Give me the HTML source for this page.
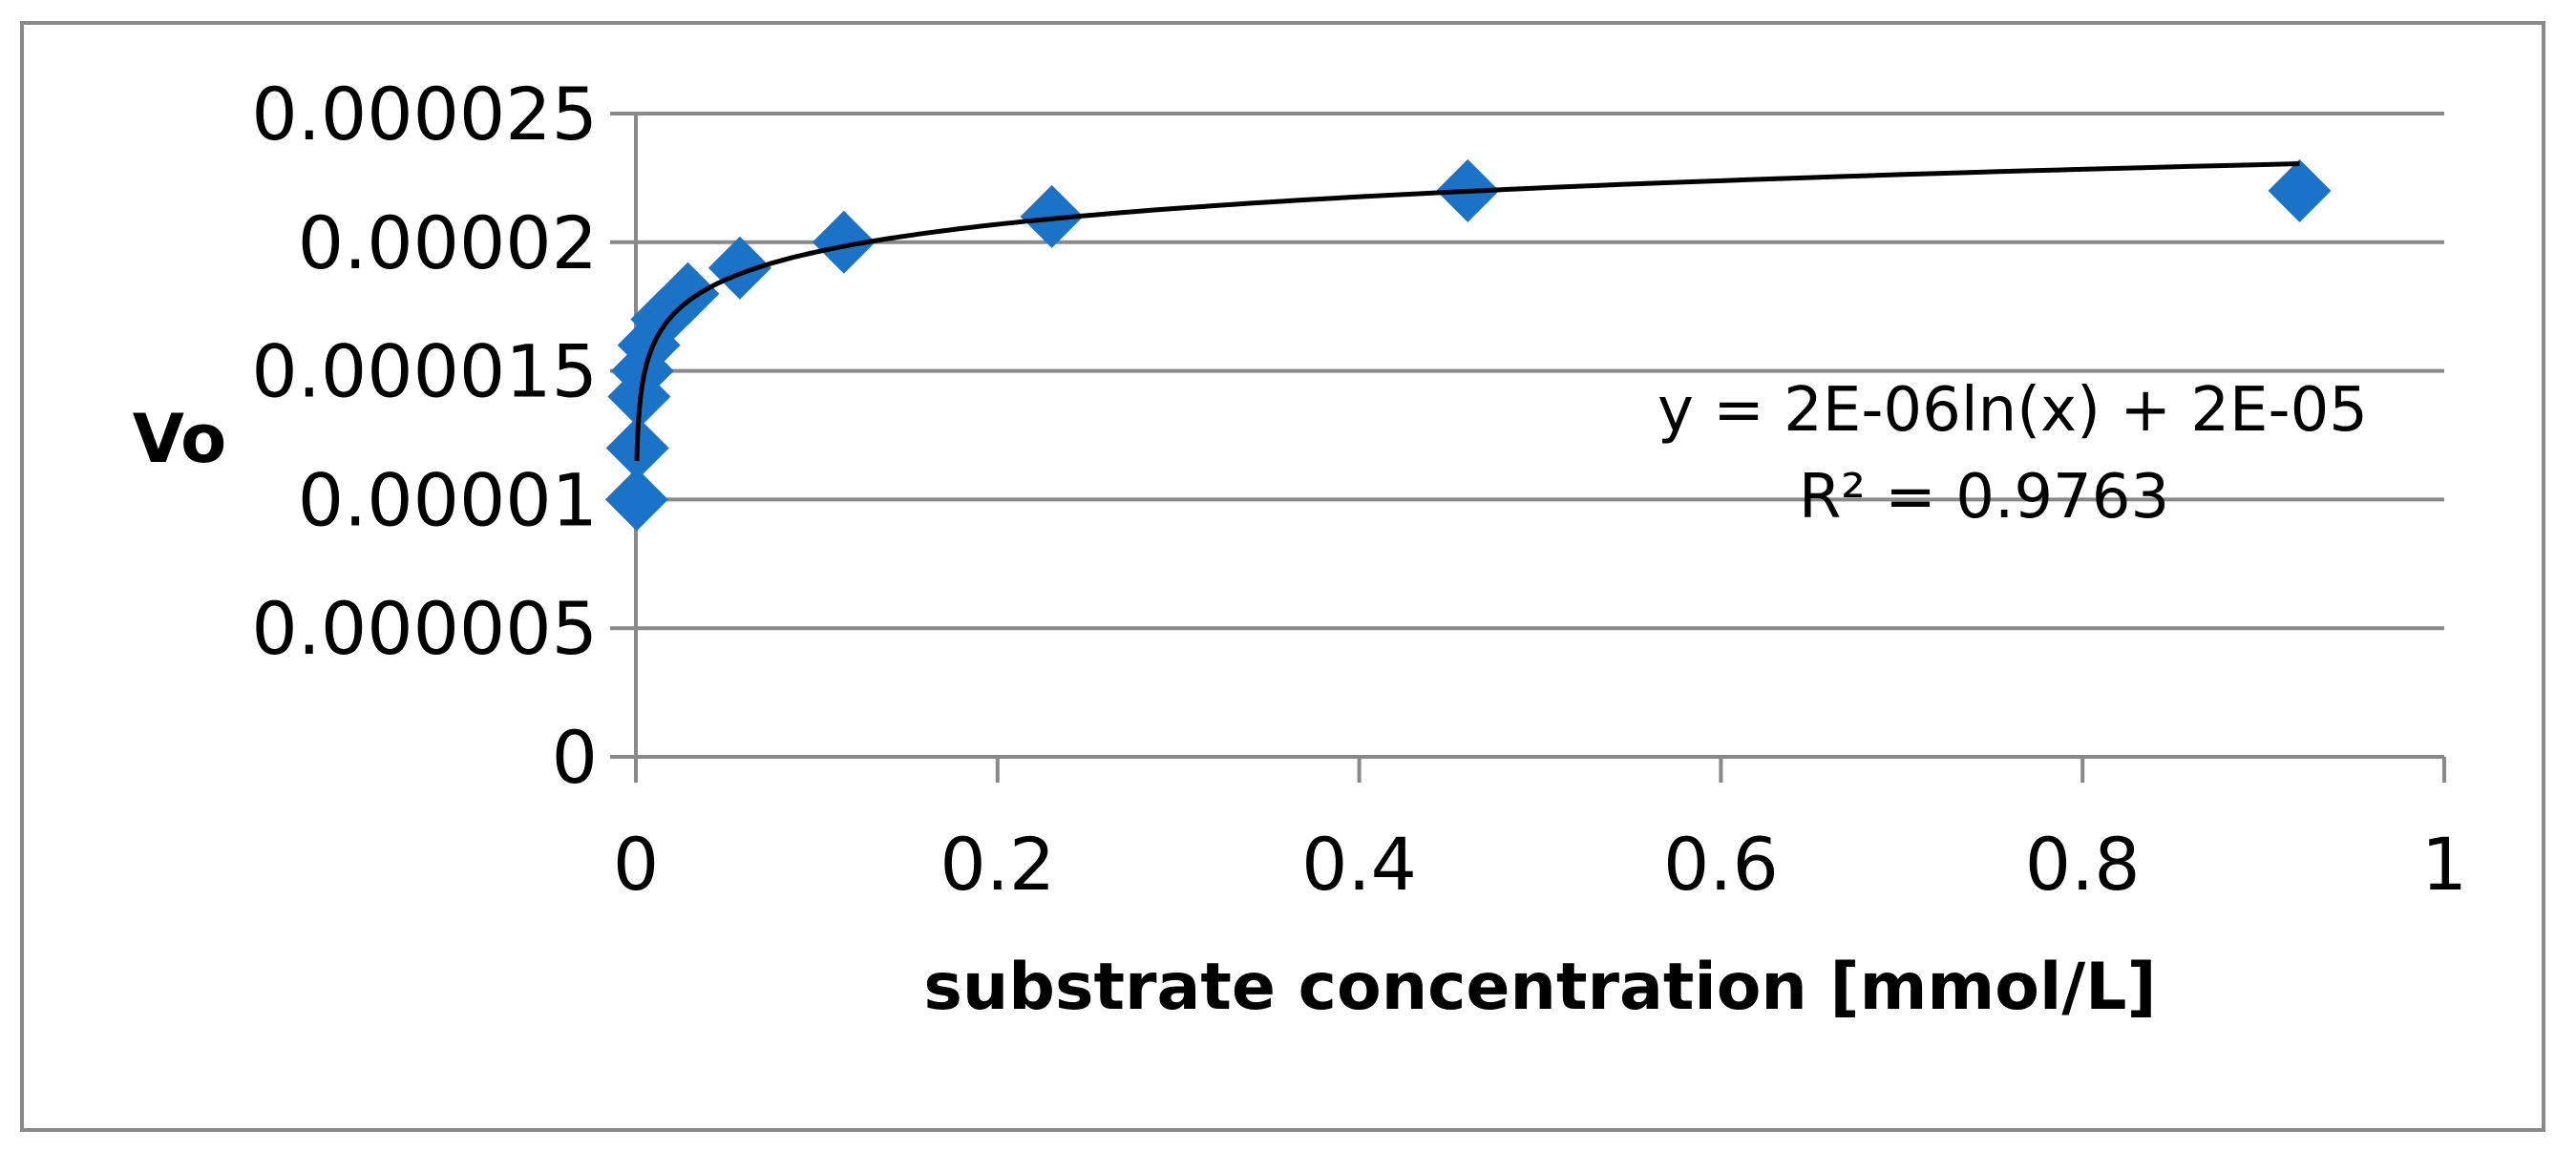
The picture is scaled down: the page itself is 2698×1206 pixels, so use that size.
<!DOCTYPE html>
<html><head><meta charset="utf-8"><style>
html,body{margin:0;padding:0;background:#fff;}
svg{display:block;}
text{font-family:"DejaVu Sans","Liberation Sans",sans-serif;fill:#000;}
</style></head><body>
<svg id="chart" width="2698" height="1206" viewBox="0 0 2698 1206" xmlns="http://www.w3.org/2000/svg">
<rect x="23" y="24" width="2641" height="1160" fill="#fff" stroke="#898989" stroke-width="4"/>
<g id="grid"></g><g id="axes"></g><g id="points"></g><g id="trend"></g><g id="labels"></g>
<text x="188" y="484" font-size="70" font-weight="bold" text-anchor="middle">Vo</text>
<text x="1613" y="1057" font-size="68" font-weight="bold" text-anchor="middle">substrate concentration [mmol/L]</text>
<text x="2108" y="451" font-size="64" text-anchor="middle">y = 2E-06ln(x) + 2E-05</text>
<text x="2078" y="542" font-size="64" text-anchor="middle">R² = 0.9763</text>
</svg>
<script>
const xData = [0.92, 0.46, 0.23, 0.115, 0.0575, 0.02875, 0.0144, 0.0072, 0.0036, 0.0018, 0.0009, 0.00045];
const yData = [2.2e-5, 2.2e-5, 2.1e-5, 2.0e-5, 1.9e-5, 1.8e-5, 1.7e-5, 1.6e-5, 1.5e-5, 1.4e-5, 1.2e-5, 1.0e-5];
const yTicks = [0, 0.000005, 0.00001, 0.000015, 0.00002, 0.000025];
const yTickLabels = ["0", "0.000005", "0.00001", "0.000015", "0.00002", "0.000025"];
const xTicks = [0, 0.2, 0.4, 0.6, 0.8, 1];
const xTickLabels = ["0", "0.2", "0.4", "0.6", "0.8", "1"];

const X0=666, X1=2560, Y0=793, Y1=119;
const sx = v => X0 + (v-0)/(1-0)*(X1-X0);
const sy = v => Y0 - (v-0)/(0.000025)*(Y0-Y1);
const NS="http://www.w3.org/2000/svg";
function mk(tag, attrs, parent){const e=document.createElementNS(NS,tag);for(const k in attrs)e.setAttribute(k,attrs[k]);parent.appendChild(e);return e;}
const grid=document.getElementById('grid'), axes=document.getElementById('axes'), labels=document.getElementById('labels');

yTicks.forEach((t,i)=>{
  const y=sy(t);
  const g=mk('line',{x1:X0-27,x2:X1,y1:y,y2:y,stroke:'#898989','stroke-width':4},grid);
  
  
  const tx=mk('text',{x:X0-40,y:y+27,'font-size':76,'text-anchor':'end'},labels);
  tx.textContent=yTickLabels[i];
  
  
});
const ya=mk('line',{x1:X0,x2:X0,y1:Y1,y2:Y0+27,stroke:'#898989','stroke-width':4},axes);


xTicks.forEach((t,i)=>{
  const x=sx(t);
  const tk=mk('line',{x1:x,x2:x,y1:Y0,y2:Y0+27,stroke:'#898989','stroke-width':4},axes);
  
  
  const tx=mk('text',{x:x,y:932,'font-size':76,'text-anchor':'middle'},labels);
  tx.textContent=xTickLabels[i];
  
  
});

// logarithmic trendline via least squares
let n=xData.length,sl=0,sy2=0,sll=0,sly=0;
for(let i=0;i<n;i++){const l=Math.log(xData[i]);sl+=l;sy2+=yData[i];sll+=l*l;sly+=l*yData[i];}
const a=(n*sly-sl*sy2)/(n*sll-sl*sl), b=(sy2-a*sl)/n;
let d='';
const xmin=Math.exp((1.15e-5-b)/a), xmax=Math.max(...xData);
for(let k=0;k<=300;k++){
  const x=Math.exp(Math.log(xmin)+(Math.log(xmax)-Math.log(xmin))*k/300);
  d+=(k?'L':'M')+sx(x).toFixed(1)+' '+sy(a*Math.log(x)+b).toFixed(1);
}
const tl=mk('path',{d:d,fill:'none',stroke:'#000','stroke-width':5},document.getElementById('trend'));



const pts=document.getElementById('points');
xData.forEach((xv,i)=>{
  const cx=sx(xv), cy=sy(yData[i]), r=33;
  const p=mk('polygon',{points:`${cx},${cy-r} ${cx+r},${cy} ${cx},${cy+r} ${cx-r},${cy}`,fill:'#1b73c8'},pts);
  
  
});
</script>
</body></html>
